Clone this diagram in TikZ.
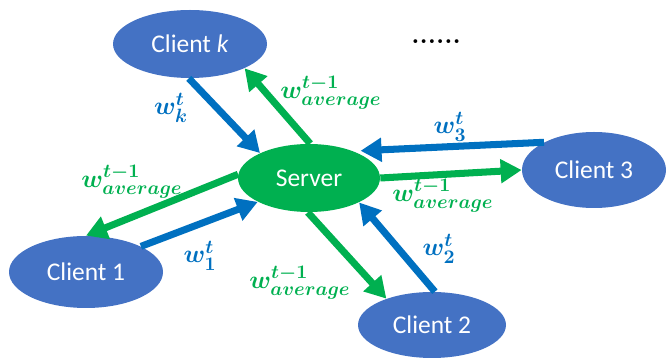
\documentclass[tikz,border=0pt]{standalone}
\usepackage{amsmath}
\usepackage{fontspec}
\newfontfamily\clientfont{Carlito}
\usetikzlibrary{arrows.meta,shapes.geometric}
\definecolor{clientblue}{HTML}{4472C4}
\definecolor{sendblue}{HTML}{0070C0}
\definecolor{avggreen}{HTML}{00B050}
\DeclareMathSizes{14}{14}{10.5}{8}

\begin{document}
\begin{tikzpicture}[
		client/.style={ellipse, fill=clientblue, text=white, inner sep=0pt,
			minimum width=3.08cm, minimum height=1.36cm,
			font=\clientfont\fontsize{14.5}{17}\selectfont},
		hub/.style={client, fill=avggreen, minimum width=2.84cm},
		upload/.style={draw=sendblue, line width=4pt,
			-{Triangle[length=0.42cm,width=0.46cm]}},
		download/.style={upload, draw=avggreen},
		uplabel/.style={text=sendblue, inner sep=0pt,
			font=\fontsize{14}{16}\selectfont\boldmath},
		downlabel/.style={uplabel, text=avggreen}
	]
	\useasboundingbox (0,0) rectangle (13.36,7.16);

	% clients and server
	\node [hub] (srv) at (6.18,3.60) {Server};
	\node [client] (ck) at (3.80,6.28) {Client \textit{k}};
	\node [client, minimum width=2.88cm, minimum height=1.52cm] (c3) at (11.88,3.76) {Client 3};
	\node [client, minimum height=1.44cm] (c1) at (1.72,1.72) {Client 1};
	\node [client, minimum width=2.96cm, minimum height=1.32cm] (c2) at (8.64,0.66) {Client 2};
	\node (dots) at (8.72,6.32) {\bfseries\fontsize{15}{17}\selectfont......};

	% local weights to the server
	\draw [upload] (ck.-92) -- (srv.153);
	\draw [upload] (c3.151) -- ([shift={(0.16,0)}]srv.32);
	\draw [upload] (c1.25) -- (srv.205);
	\draw [upload] (c2.85) -- (srv.-26);

	% averaged weights back to the clients
	\draw [download] (srv.88) -- (ck.-24);
	\draw [download] (srv.east) -- (c3.west);
	\draw [download] (srv.177) -- (c1.90);
	\draw [download] (srv.-92) -- (c2.150);

	\node [uplabel] (wk) at (3.42,5.00) {$w_k^t$};
	\node [uplabel] (w3) at (9.00,4.62) {$w_3^t$};
	\node [uplabel] (w1) at (4.00,2.04) {$w_1^t$};
	\node [uplabel] (w2) at (8.78,2.18) {$w_2^t$};
	\node [downlabel] (avgk) at (6.62,5.30) {$w^{t-1}_{average}$};
	\node [downlabel] (avg3) at (8.86,3.24) {$w^{t-1}_{average}$};
	\node [downlabel] (avg1) at (2.64,3.52) {$w^{t-1}_{average}$};
	\node [downlabel] (avg2) at (6.00,1.50) {$w^{t-1}_{average}$};

\end{tikzpicture}
\end{document}
